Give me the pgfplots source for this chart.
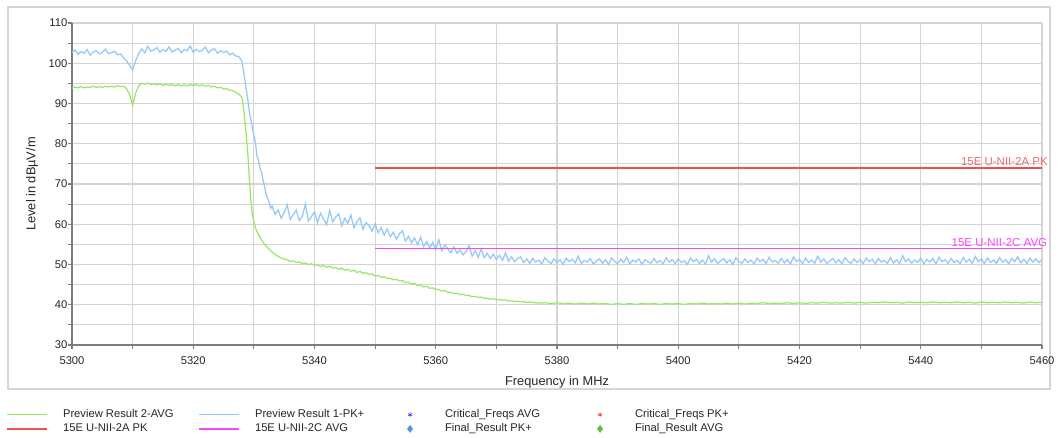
\documentclass[border=0pt]{standalone}
\usepackage{pgfplots}
\pgfplotsset{compat=1.18}
\usepackage{pgfplotstable}
\usepackage{fontspec}
\setmainfont{Liberation Sans}
\definecolor{pkblue}{RGB}{150,200,250}
\definecolor{avggreen}{RGB}{150,232,100}
\definecolor{limred}{RGB}{238,80,80}
\definecolor{limmag}{RGB}{250,70,250}
\definecolor{gridgray}{RGB}{212,212,212}
\definecolor{axisgray}{RGB}{125,125,125}
\definecolor{framegray}{RGB}{214,214,214}
\definecolor{critblue}{RGB}{40,40,230}
\definecolor{critred}{RGB}{235,40,40}
\definecolor{finblue}{RGB}{80,150,225}
\definecolor{fingreen}{RGB}{95,190,55}

\pgfplotstableread{
x y
5300 102.6
5300.5 103.3
5301 102.2
5301.5 102.9
5302 102.5
5302.5 103.4
5303 102.0
5303.5 102.8
5304 103.1
5304.5 102.3
5305 102.7
5305.5 103.5
5306 102.4
5306.5 102.6
5307 103.0
5307.5 102.1
5308 102.3
5308.5 101.4
5309 100.6
5309.5 99.5
5310 98.3
5310.5 100.6
5311 102.4
5311.5 103.6
5312 102.6
5312.5 104.2
5313 103.0
5313.5 103.3
5314 103.9
5314.5 102.7
5315 103.4
5315.5 103.0
5316 104.1
5316.5 102.8
5317 103.2
5317.5 103.7
5318 102.6
5318.5 103.4
5319 103.1
5319.5 104.3
5320 102.7
5320.5 103.5
5321 102.9
5321.5 103.2
5322 104.0
5322.5 102.6
5323 103.3
5323.5 103.6
5324 102.5
5324.5 103.1
5325 102.7
5325.5 103.0
5326 102.1
5326.5 102.5
5327 101.8
5327.5 101.7
5328 100.6
5328.25 98.5
5328.5 96.0
5328.75 93.5
5329 91.0
5329.25 88.0
5329.5 86.0
5329.75 84.0
5330 82.0
5330.25 80.5
5330.5 77.0
5330.75 76.0
5331 74.0
5331.25 73.0
5331.5 71.0
5331.75 69.5
5332 67.5
5332.25 66.5
5332.5 65.5
5332.75 64.0
5333 64.5
5333.5 62.4
5334 63.6
5334.5 61.5
5335 62.9
5335.5 64.8
5336 61.2
5336.5 62.4
5337 63.5
5337.5 60.9
5338 62.0
5338.5 65.0
5339 60.8
5339.5 61.9
5340 63.1
5340.5 60.4
5341 62.7
5341.5 61.3
5342 59.9
5342.5 63.4
5343 60.6
5343.5 61.8
5344 62.6
5344.5 59.6
5345 61.5
5345.5 60.2
5346 62.3
5346.5 59.1
5347 60.7
5347.5 61.6
5348 58.7
5348.5 60.4
5349 59.6
5349.5 58.3
5350 60.1
5350.5 57.9
5351 59.2
5351.5 57.3
5352 58.8
5352.5 56.9
5353 58.0
5353.5 56.3
5354 57.6
5354.5 58.4
5355 55.8
5355.5 57.0
5356 55.4
5356.5 56.6
5357 54.9
5357.5 56.8
5358 54.5
5358.5 55.7
5359 54.1
5359.5 55.5
5360 53.7
5360.5 56.2
5361 53.4
5361.5 54.8
5362 53.9
5362.5 52.9
5363 54.4
5363.5 52.8
5364 53.6
5364.5 52.4
5365 53.2
5365.5 54.7
5366 52.1
5366.5 53.4
5367 51.8
5367.5 53.9
5368 51.7
5368.5 52.8
5369 51.5
5369.5 52.6
5370 51.2
5370.5 52.3
5371 51.0
5371.5 52.9
5372 50.8
5372.5 51.9
5373 50.7
5373.5 51.5
5374 51.9
5374.5 50.5
5375 51.4
5375.5 50.3
5376 51.5
5376.5 50.6
5377 51.1
5377.5 50.1
5378 51.7
5378.5 50.9
5379 50.2
5379.5 51.4
5380 50.5
5380.5 51.2
5381 50.0
5381.5 51.6
5382 50.7
5382.5 51.3
5383 50.4
5383.5 52.1
5384 50.2
5384.5 51.0
5385 50.6
5385.5 51.5
5386 50.1
5386.5 50.9
5387 51.4
5387.5 50.3
5388 51.2
5388.5 50.0
5389 51.6
5389.5 50.8
5390 50.2
5390.5 51.3
5391 50.5
5391.5 51.8
5392 50.1
5392.5 51.1
5393 50.6
5393.5 51.4
5394 50.0
5394.5 51.2
5395 50.7
5395.5 50.3
5396 51.5
5396.5 50.4
5397 51.0
5397.5 50.1
5398 51.7
5398.5 50.6
5399 51.2
5399.5 50.2
5400 51.4
5400.5 50.5
5401 50.9
5401.5 50.0
5402 51.6
5402.5 50.7
5403 51.3
5403.5 50.3
5404 51.1
5404.5 50.1
5405 52.2
5405.5 50.6
5406 51.4
5406.5 50.2
5407 50.9
5407.5 51.5
5408 50.4
5408.5 51.2
5409 50.0
5409.5 51.7
5410 50.8
5410.5 50.3
5411 51.4
5411.5 50.5
5412 51.1
5412.5 50.1
5413 51.6
5413.5 50.7
5414 51.3
5414.5 50.2
5415 51.8
5415.5 50.6
5416 51.0
5416.5 50.3
5417 51.5
5417.5 50.4
5418 51.2
5418.5 50.1
5419 51.9
5419.5 50.7
5420 51.3
5420.5 50.2
5421 51.6
5421.5 50.5
5422 51.1
5422.5 50.3
5423 52.1
5423.5 50.6
5424 51.4
5424.5 50.2
5425 50.9
5425.5 51.5
5426 50.4
5426.5 51.2
5427 50.1
5427.5 51.7
5428 50.8
5428.5 50.3
5429 51.4
5429.5 50.5
5430 51.2
5430.5 50.2
5431 51.6
5431.5 50.7
5432 51.3
5432.5 50.1
5433 51.5
5433.5 50.6
5434 51.0
5434.5 50.3
5435 51.7
5435.5 50.4
5436 51.2
5436.5 50.2
5437 52.2
5437.5 50.7
5438 51.4
5438.5 50.3
5439 51.1
5439.5 50.5
5440 51.6
5440.5 50.2
5441 51.3
5441.5 50.6
5442 51.5
5442.5 50.1
5443 51.8
5443.5 50.7
5444 51.2
5444.5 50.3
5445 51.5
5445.5 50.5
5446 51.0
5446.5 50.2
5447 51.7
5447.5 50.6
5448 51.3
5448.5 50.3
5449 52.0
5449.5 50.7
5450 51.4
5450.5 50.2
5451 51.6
5451.5 50.5
5452 51.1
5452.5 50.3
5453 51.7
5453.5 50.6
5454 51.2
5454.5 50.2
5455 51.5
5455.5 50.7
5456 51.9
5456.5 50.4
5457 51.3
5457.5 50.3
5458 51.6
5458.5 50.6
5459 51.4
5459.5 50.5
5460 51.2
}\pkdata

\pgfplotstableread{
x y
5300 93.8
5300.5 94.1
5301 93.9
5301.5 94.2
5302 93.9
5302.5 94.1
5303 94.0
5303.5 94.3
5304 94.0
5304.5 94.2
5305 94.0
5305.5 94.3
5306 94.1
5306.5 94.3
5307 94.1
5307.5 94.4
5308 94.2
5308.5 94.3
5309 93.7
5309.5 92.2
5310 89.6
5310.5 92.6
5311 94.4
5311.5 95.0
5312 94.8
5312.5 95.1
5313 94.7
5313.5 94.9
5314 94.6
5314.5 94.9
5315 94.5
5315.5 94.8
5316 94.5
5316.5 94.7
5317 94.4
5317.5 94.7
5318 94.4
5318.5 94.6
5319 94.4
5319.5 94.7
5320 94.5
5320.5 94.7
5321 94.4
5321.5 94.6
5322 94.3
5322.5 94.5
5323 94.1
5323.5 94.3
5324 93.9
5324.5 94.0
5325 93.6
5325.5 93.7
5326 93.3
5326.5 93.2
5327 92.8
5327.5 92.4
5328 91.6
5328.25 89.5
5328.5 86.0
5328.75 82.0
5329 77.5
5329.25 71.5
5329.5 66.0
5329.75 62.5
5330 60.5
5330.25 59.2
5330.5 58.2
5331 56.8
5331.5 55.6
5332 54.6
5332.5 53.8
5333 53.1
5333.5 52.5
5334 52.0
5334.5 51.6
5335 51.3
5335.5 51.2
5336 50.8
5336.5 50.9
5337 50.5
5337.5 50.6
5338 50.2
5338.5 50.4
5339 50.0
5339.5 50.2
5340 49.8
5340.5 49.9
5341 49.5
5341.5 49.8
5342 49.3
5342.5 49.6
5343 49.1
5343.5 49.3
5344 48.8
5344.5 49.1
5345 48.6
5345.5 48.8
5346 48.3
5346.5 48.6
5347 48.0
5347.5 48.3
5348 47.8
5348.5 48.0
5349 47.5
5349.5 47.7
5350 47.1
5350.5 47.3
5351 46.8
5351.5 47.0
5352 46.5
5352.5 46.6
5353 46.2
5353.5 46.3
5354 45.9
5354.5 46.0
5355 45.5
5355.5 45.6
5356 45.1
5356.5 45.3
5357 44.8
5357.5 44.9
5358 44.4
5358.5 44.6
5359 44.1
5359.5 44.2
5360 43.8
5360.5 43.8
5361 43.4
5361.5 43.5
5362 43.1
5362.5 43.1
5363 42.8
5363.5 42.9
5364 42.5
5364.5 42.6
5365 42.3
5365.5 42.3
5366 42.0
5366.5 42.1
5367 41.8
5367.5 41.9
5368 41.6
5368.5 41.6
5369 41.4
5369.5 41.5
5370 41.2
5370.5 41.3
5371 41.1
5371.5 41.2
5372 40.9
5372.5 41.0
5373 40.8
5373.5 40.9
5374 40.7
5374.5 40.8
5375 40.6
5375.5 40.7
5376 40.6
5377 40.4
5378 40.5
5379 40.3
5380 40.5
5381 40.3
5382 40.4
5383 40.2
5384 40.4
5385 40.2
5386 40.4
5387 40.2
5388 40.3
5389 40.1
5390 40.3
5391 40.1
5392 40.3
5393 40.1
5394 40.3
5395 40.2
5396 40.3
5397 40.1
5398 40.3
5399 40.2
5400 40.3
5401 40.1
5402 40.3
5403 40.2
5404 40.4
5405 40.2
5406 40.3
5407 40.2
5408 40.4
5409 40.2
5410 40.4
5411 40.2
5412 40.4
5413 40.3
5414 40.5
5415 40.3
5416 40.4
5417 40.3
5418 40.5
5419 40.3
5420 40.5
5421 40.3
5422 40.5
5423 40.4
5424 40.6
5425 40.4
5426 40.5
5427 40.4
5428 40.6
5429 40.4
5430 40.6
5431 40.4
5432 40.6
5433 40.5
5434 40.7
5435 40.5
5436 40.6
5437 40.4
5438 40.7
5439 40.5
5440 40.6
5441 40.5
5442 40.7
5443 40.5
5444 40.6
5445 40.5
5446 40.7
5447 40.5
5448 40.6
5449 40.4
5450 40.7
5451 40.5
5452 40.6
5453 40.5
5454 40.7
5455 40.5
5456 40.6
5457 40.4
5458 40.7
5459 40.5
5460 40.6
}\avgdata

\pgfplotsset{
  lineleg/.style={legend image code/.code={\draw[##1] (0pt,0pt) -- (30pt,0pt);}},
  markleg/.style={legend image code/.code={\path[draw=none,fill=none] (0pt,0pt) (30pt,0pt);\draw[mark repeat=2,mark phase=2,##1] plot coordinates {(0pt,0pt) (15pt,0pt) (30pt,0pt)};}},
}
\newcommand{\legtxt}[1]{\makebox[112.5pt][l]{\hspace{11.25pt}#1}}

\begin{document}
\begin{tikzpicture}
\useasboundingbox (0,0) rectangle (793.5pt,327.75pt);
\draw[framegray, line width=0.9pt] (6pt,36pt) rectangle (787.5pt,322.5pt);
\begin{axis}[
  at={(54pt,69pt)}, anchor=south west,
  scale only axis, width=727.5pt, height=241.5pt,
  xmin=5300, xmax=5460, ymin=30, ymax=110,
  axis x line*=bottom, axis y line*=left,
  axis line style={draw=axisgray, line width=1.1pt},
  xtick={5300,5320,...,5460}, minor x tick num=1,
  ytick={30,40,...,110}, minor y tick num=1,
  grid=both,
  major grid style={gridgray, line width=0.8pt},
  minor grid style={gridgray, line width=0.8pt},
  tick align=outside, tick style={axisgray, line width=0.8pt},
  major tick length=3pt, minor tick length=3pt,
  tick label style={font=\fontsize{8.4}{10}\selectfont, text=black!85},
  xticklabel style={yshift=-2.2pt},
  yticklabel style={xshift=3pt},
  /pgf/number format/assume math mode=true,
  /pgf/number format/1000 sep={},
  xlabel={Frequency in MHz},
  ylabel={Level in dBµV/m},
  label style={font=\fontsize{9.6}{11}\selectfont, text=black!85},
  xlabel style={at={(axis description cs:0.5,-0.117)}, anchor=center},
  ylabel style={at={(axis description cs:-0.0412,0.5)}, anchor=center},
  clip mode=individual,
  legend columns=4,
  legend cell align=left,
  legend style={draw=none, fill=none, inner sep=0pt, outer sep=0pt,
    column sep=0pt, row sep=2.6pt,
    font=\fontsize{8.4}{10}\selectfont,
    nodes={inner sep=0pt, text height=6.3pt, text depth=1.7pt, text=black!85},
    at={(axis description cs:-0.068,-0.2)}, anchor=north west},
]
\addplot[forget plot, color=avggreen, line width=0.9pt] table[x=x,y=y] {\avgdata};
\addplot[forget plot, color=pkblue, line width=0.95pt] table[x=x,y=y] {\pkdata};
\addplot[forget plot, color=limred, line width=1.0pt] coordinates {(5350,74) (5460,74)};
\addplot[forget plot, color=limmag, line width=1.0pt] coordinates {(5350,54) (5460,54)};
\node[anchor=south east, inner sep=0pt, text=limred!85, font=\fontsize{8.6}{10}\selectfont, xshift=4.5pt, yshift=1.2pt] at (axis cs:5460,74) {15E U-NII-2A PK};
\node[anchor=south east, inner sep=0pt, text=limmag, font=\fontsize{8.6}{10}\selectfont, xshift=4pt, yshift=1.2pt] at (axis cs:5460,54) {15E U-NII-2C AVG};

\addlegendimage{lineleg, color=avggreen, line width=0.8pt}
\addlegendentry{\legtxt{Preview Result 2-AVG}}
\addlegendimage{lineleg, color=pkblue, line width=0.8pt}
\addlegendentry{\legtxt{Preview Result 1-PK+}}
\addlegendimage{markleg, only marks, mark=asterisk, mark size=1.8pt, color=critblue}
\addlegendentry{\legtxt{Critical\_Freqs AVG}}
\addlegendimage{markleg, only marks, mark=asterisk, mark size=1.8pt, color=critred}
\addlegendentry{\legtxt{Critical\_Freqs PK+}}
\addlegendimage{lineleg, color=limred, line width=1.5pt}
\addlegendentry{\legtxt{15E U-NII-2A PK}}
\addlegendimage{lineleg, color=limmag, line width=1.5pt}
\addlegendentry{\legtxt{15E U-NII-2C AVG}}
\addlegendimage{markleg, only marks, mark=diamond*, mark size=2.6pt, color=finblue}
\addlegendentry{\legtxt{Final\_Result PK+}}
\addlegendimage{markleg, only marks, mark=diamond*, mark size=2.6pt, color=fingreen}
\addlegendentry{\legtxt{Final\_Result AVG}}
\end{axis}
\end{tikzpicture}
\end{document}
